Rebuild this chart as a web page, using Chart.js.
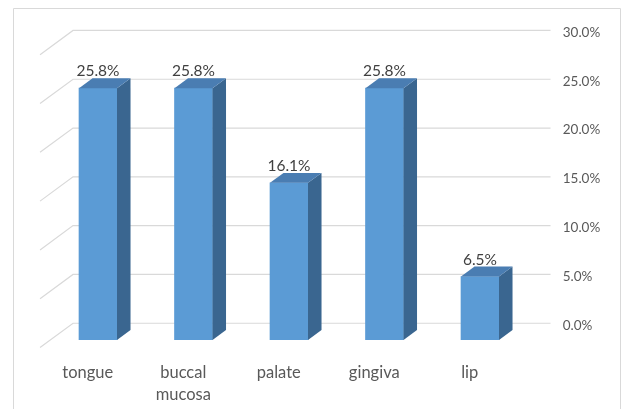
<!DOCTYPE html>
<html>
<head>
<meta charset="utf-8">
<script src="https://cdn.jsdelivr.net/npm/chart.js@4"></script>
<style>
  html, body { margin: 0; padding: 0; background: #fff; }
  #wrap { width: 624px; height: 409px; }
</style>
</head>
<body>
<div id="wrap"><canvas id="grafico" width="624" height="409"></canvas></div>
<script>
// data
const categorias = [["tongue"], ["buccal", "mucosa"], ["palate"], ["gingiva"], ["lip"]];
const valores = [0.258, 0.258, 0.161, 0.258, 0.065];
const rotulos = ["25.8%", "25.8%", "16.1%", "25.8%", "6.5%"];
const eixoMin = 0, eixoMax = 0.3, eixoPasso = 0.05;

// 3D look: full floor depth, bar front / back as a share of it
const FUNDO_DX = 33, FUNDO_DY = 24.3;
const FRENTE = 0.69, TRAS = 0.28;

const corFrente = "#5B9BD5";
const corTopo = "#4A7DB2";
const corLado = "#3A6690";
const corGrade = "#D9D9D9";
const fonte = "Lato, 'DejaVu Sans', sans-serif";

// back wall / floor offsets relative to the bar front plane
const paredeX = FRENTE * FUNDO_DX, paredeY = -FRENTE * FUNDO_DY;
const pisoX = -(1 - FRENTE) * FUNDO_DX, pisoY = (1 - FRENTE) * FUNDO_DY;
const barDX = (FRENTE - TRAS) * FUNDO_DX, barDY = -(FRENTE - TRAS) * FUNDO_DY;

const grade3d = {
  id: "grade3d",
  beforeDraw(chart) {
    const ctx = chart.ctx;
    ctx.save();
    ctx.strokeStyle = corGrade;
    ctx.lineWidth = 1;
    ctx.beginPath();
    ctx.moveTo(13.5, 415);
    ctx.lineTo(13.5, 8.5);
    ctx.lineTo(620.5, 8.5);
    ctx.lineTo(620.5, 415);
    ctx.stroke();
    ctx.restore();
  },
  beforeDatasetsDraw(chart) {
    const { ctx, chartArea, scales } = chart;
    const y = scales.y;
    ctx.save();
    ctx.strokeStyle = corGrade;
    ctx.lineWidth = 1.2;
    y.ticks.forEach(t => {
      const py = y.getPixelForValue(t.value) + paredeY;
      const xl = chartArea.left + paredeX;
      const xr = chartArea.right + paredeX;
      ctx.beginPath();
      ctx.moveTo(xr, py);
      ctx.lineTo(xl, py);
      ctx.lineTo(chartArea.left + pisoX, py + (pisoY - paredeY));
      ctx.stroke();
    });
    ctx.restore();
  },
  afterDatasetsDraw(chart) {
    const ctx = chart.ctx;
    const meta = chart.getDatasetMeta(0);
    ctx.save();
    meta.data.forEach((bar, i) => {
      const w = bar.width;
      const l = bar.x - w / 2, r = bar.x + w / 2;
      const top = bar.y, base = bar.base;
      // side
      ctx.fillStyle = corLado;
      ctx.beginPath();
      ctx.moveTo(r, top);
      ctx.lineTo(r + barDX, top + barDY);
      ctx.lineTo(r + barDX, base + barDY);
      ctx.lineTo(r, base);
      ctx.closePath();
      ctx.fill();
      // top
      ctx.fillStyle = corTopo;
      ctx.beginPath();
      ctx.moveTo(l, top);
      ctx.lineTo(l + barDX, top + barDY);
      ctx.lineTo(r + barDX, top + barDY);
      ctx.lineTo(r, top);
      ctx.closePath();
      ctx.fill();
      // value label
      ctx.fillStyle = "#404040";
      ctx.font = "15.5px " + fonte;
      ctx.textAlign = "center";
      ctx.textBaseline = "alphabetic";
      ctx.fillText(rotulos[i], bar.x, top + barDY - 2);
    });
    ctx.restore();
  }
};

new Chart(document.getElementById("grafico"), {
  type: "bar",
  data: {
    labels: categorias,
    datasets: [{
      data: valores,
      backgroundColor: corFrente,
      borderWidth: 0,
      barThickness: 38
    }]
  },
  options: {
    responsive: false,
    animation: false,
    layout: { padding: { left: 50.25, top: 47.2, right: 0, bottom: 0 } },
    plugins: { legend: { display: false }, tooltip: { enabled: false } },
    scales: {
      x: {
        grid: { display: false, drawTicks: false },
        border: { display: false },
        ticks: {
          color: "#595959",
          font: { family: fonte, size: 16.5, lineHeight: 1.3 },
          labelOffset: pisoX,
          padding: 22,
          maxRotation: 0,
          autoSkip: false
        },
        afterFit: s => { s.height = 69; }
      },
      y: {
        position: "right",
        min: eixoMin,
        max: eixoMax,
        grid: { display: false, drawTicks: false },
        border: { display: false },
        ticks: {
          stepSize: eixoPasso,
          color: "#595959",
          font: { family: fonte, size: 13.5 },
          labelOffset: paredeY + 2,
          padding: 35,
          callback: v => (v * 100).toFixed(1) + "%"
        },
        afterFit: s => { s.width = 96.25; }
      }
    }
  },
  plugins: [grade3d]
});
</script>
</body>
</html>
